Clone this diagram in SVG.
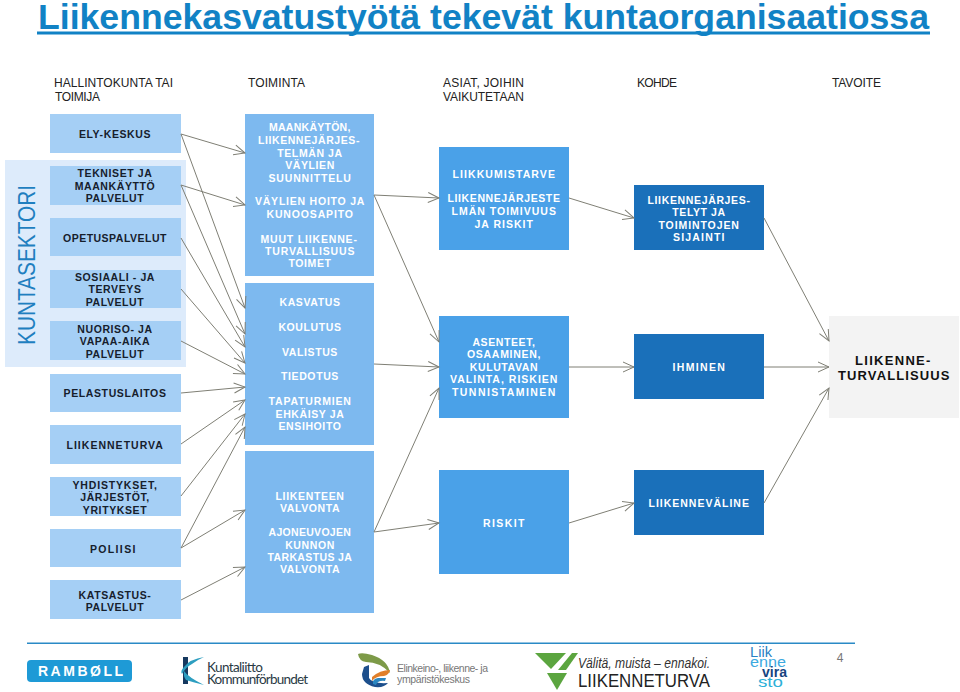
<svg xmlns="http://www.w3.org/2000/svg" width="960" height="692" viewBox="0 0 960 692">
<style>
text{font-family:"Liberation Sans",Arial,sans-serif}
.n text{font-weight:700;font-size:10.5px;letter-spacing:.6px;text-anchor:middle}
.a rect{fill:#a5cff5}.a text{fill:#16202c}
.b rect{fill:#7db9ef}.b text{fill:#fff}
.c rect{fill:#4aa1e8}.c text{fill:#fff}
.d rect{fill:#1a70ba}.d text{fill:#fff}
.h{font-size:12px;fill:#222}
.l{font-family:Lato,"Liberation Sans",sans-serif;font-size:13.5px;fill:#2a3a44}
#connectors line{stroke:#7f7f75;stroke-width:1;marker-end:url(#ar)}
</style>
<defs><marker id="ar" markerUnits="userSpaceOnUse" markerWidth="14" markerHeight="14" refX="12" refY="6" orient="auto" viewBox="0 0 14 12"><path d="M1 1L12 6L1 11" fill="none" stroke="#7f7f75" stroke-width="1"/></marker></defs>
<rect width="960" height="692" fill="#fff"/>
<g id="title"><text x="38" y="28.5" font-size="35" font-weight="700" fill="#1182c5" textLength="891" lengthAdjust="spacingAndGlyphs">Liikennekasvatustyötä tekevät kuntaorganisaatiossa</text><rect x="37" y="31.5" width="893" height="3" fill="#1182c5"/></g>
<g id="headers">
<text class="h" x="54" y="87" textLength="119">HALLINTOKUNTA  TAI</text><text class="h" x="55" y="101" textLength="45">TOIMIJA</text>
<text class="h" x="248" y="87" textLength="57">TOIMINTA</text>
<text class="h" x="443" y="87" textLength="81">ASIAT, JOIHIN</text><text class="h" x="443" y="101" textLength="81">VAIKUTETAAN</text>
<text class="h" x="637" y="87" textLength="40">KOHDE</text>
<text class="h" x="832" y="87" textLength="49">TAVOITE</text>
</g>
<g id="kuntasektori"><rect x="5" y="160" width="181" height="207" fill="#ddebfb"/><text transform="translate(35 345) rotate(-90)" font-size="23.5" fill="#1f7fc0" textLength="160" lengthAdjust="spacingAndGlyphs">KUNTASEKTORI</text></g>
<g id="n-ely" class="n a"><rect x="50" y="114" width="131" height="39"/><text x="115" y="138">ELY-KESKUS</text></g>
<g id="n-tekniset" class="n a"><rect x="50" y="166" width="131" height="39"/><text x="115" y="177">TEKNISET JA</text><text x="115" y="190">MAANKÄYTTÖ</text><text x="115" y="202">PALVELUT</text></g>
<g id="n-opetus" class="n a"><rect x="50" y="218" width="131" height="38"/><text x="115" y="242" textLength="104">OPETUSPALVELUT</text></g>
<g id="n-sosiaali" class="n a"><rect x="50" y="270" width="131" height="38"/><text x="115" y="281" textLength="80">SOSIAALI - JA</text><text x="115" y="293">TERVEYS</text><text x="115" y="306">PALVELUT</text></g>
<g id="n-nuoriso" class="n a"><rect x="50" y="321" width="131" height="39"/><text x="115" y="333">NUORISO- JA</text><text x="115" y="345">VAPAA-AIKA</text><text x="115" y="358">PALVELUT</text></g>
<g id="n-pelastus" class="n a"><rect x="50" y="374" width="131" height="38"/><text x="115" y="397" textLength="103">PELASTUSLAITOS</text></g>
<g id="n-liikenneturva" class="n a"><rect x="50" y="425" width="131" height="39"/><text x="115" y="449" textLength="97">LIIKENNETURVA</text></g>
<g id="n-yhdistykset" class="n a"><rect x="50" y="477" width="131" height="39"/><text x="115" y="489" textLength="85">YHDISTYKSET,</text><text x="115" y="501">JÄRJESTÖT,</text><text x="115" y="514">YRITYKSET</text></g>
<g id="n-poliisi" class="n a"><rect x="50" y="529" width="131" height="38"/><text x="113" y="553" textLength="46">POLIISI</text></g>
<g id="n-katsastus" class="n a"><rect x="50" y="580" width="131" height="39"/><text x="115" y="599">KATSASTUS-</text><text x="115" y="611">PALVELUT</text></g>
<g id="n-maankaytto" class="n b"><rect x="245" y="114" width="129" height="162"/><text x="310" y="131" textLength="82">MAANKÄYTÖN,</text><text x="309" y="144" textLength="102">LIIKENNEJÄRJES-</text><text x="310" y="157">TELMÄN JA</text><text x="310" y="169">VÄYLIEN</text><text x="310" y="182" textLength="83">SUUNNITTELU</text><text x="310" y="205" textLength="110">VÄYLIEN HOITO JA</text><text x="310" y="218" textLength="87">KUNOOSAPITO</text><text x="309" y="243" textLength="97">MUUT LIIKENNE-</text><text x="310" y="255" textLength="90">TURVALLISUUS</text><text x="310" y="267">TOIMET</text></g>
<g id="n-kasvatus" class="n b"><rect x="245" y="283" width="129" height="162"/><text x="310" y="306">KASVATUS</text><text x="310" y="331">KOULUTUS</text><text x="310" y="356">VALISTUS</text><text x="310" y="380">TIEDOTUS</text><text x="310" y="405" textLength="83">TAPATURMIEN</text><text x="310" y="418">EHKÄISY JA</text><text x="310" y="430">ENSIHOITO</text></g>
<g id="n-valvonta" class="n b"><rect x="245" y="451" width="129" height="162"/><text x="310" y="500" textLength="69">LIIKENTEEN</text><text x="310" y="512">VALVONTA</text><text x="310" y="536" textLength="83">AJONEUVOJEN</text><text x="310" y="549">KUNNON</text><text x="310" y="561" textLength="85">TARKASTUS JA</text><text x="310" y="573">VALVONTA</text></g>
<g id="n-liikkumistarve" class="n c"><rect x="439" y="147" width="130" height="103"/><text x="504" y="178" textLength="103">LIIKKUMISTARVE</text><text x="504" y="202" textLength="113">LIIKENNEJÄRJESTE</text><text x="504" y="215" textLength="105">LMÄN TOIMIVUUS</text><text x="504" y="228" textLength="59">JA RISKIT</text></g>
<g id="n-asenteet" class="n c"><rect x="439" y="316" width="130" height="102"/><text x="504" y="346">ASENTEET,</text><text x="504" y="358" textLength="74">OSAAMINEN,</text><text x="504" y="371">KULUTAVAN</text><text x="504" y="383" textLength="108">VALINTA, RISKIEN</text><text x="504" y="396" textLength="104">TUNNISTAMINEN</text></g>
<g id="n-riskit" class="n c"><rect x="439" y="470" width="130" height="104"/><text x="504" y="527" textLength="42">RISKIT</text></g>
<g id="n-jarjestelyt" class="n d"><rect x="634" y="185" width="130" height="65"/><text x="699" y="204" textLength="103">LIIKENNEJÄRJES-</text><text x="699" y="216">TELYT JA</text><text x="699" y="229" textLength="81">TOIMINTOJEN</text><text x="699" y="241" textLength="52">SIJAINTI</text></g>
<g id="n-ihminen" class="n d"><rect x="634" y="334" width="130" height="65"/><text x="699" y="371" textLength="53">IHMINEN</text></g>
<g id="n-liikennevaline" class="n d"><rect x="634" y="470" width="130" height="65"/><text x="699" y="507" textLength="101">LIIKENNEVÄLINE</text></g>
<g id="n-turvallisuus" class="n"><rect x="829" y="316" width="130" height="102" fill="#f3f3f3"/><text x="893" y="365" style="font-size:13px" fill="#111" textLength="76">LIIKENNE-</text><text x="894" y="380" style="font-size:13px" fill="#111" textLength="112">TURVALLISUUS</text></g>
<g id="connectors">
<line x1="181" y1="134" x2="245" y2="153"/><line x1="181" y1="134" x2="245" y2="308"/>
<line x1="181" y1="185" x2="245" y2="205"/><line x1="181" y1="185" x2="245" y2="334"/>
<line x1="181" y1="238" x2="245" y2="347"/><line x1="181" y1="289" x2="245" y2="363"/>
<line x1="181" y1="341" x2="245" y2="374"/><line x1="181" y1="393" x2="245" y2="387"/>
<line x1="181" y1="444" x2="245" y2="400"/><line x1="181" y1="496" x2="245" y2="414"/>
<line x1="181" y1="548" x2="245" y2="427"/><line x1="181" y1="548" x2="245" y2="510"/>
<line x1="181" y1="600" x2="245" y2="567"/>
<line x1="374" y1="195" x2="439" y2="198"/><line x1="374" y1="195" x2="439" y2="342"/>
<line x1="374" y1="364" x2="439" y2="367"/>
<line x1="374" y1="532" x2="439" y2="388"/><line x1="374" y1="532" x2="439" y2="523"/>
<line x1="569" y1="198" x2="634" y2="218"/><line x1="569" y1="367" x2="634" y2="367"/><line x1="569" y1="523" x2="634" y2="503"/>
<line x1="764" y1="218" x2="829" y2="341"/><line x1="764" y1="367" x2="829" y2="367"/><line x1="764" y1="503" x2="829" y2="388"/>
</g>
<g id="footer">
<rect x="27" y="642.5" width="828" height="1.5" fill="#2a8ac6"/>
<rect x="27" y="660" width="105" height="22" rx="4" fill="#1e9ad6"/><text x="38" y="676" font-size="14" font-weight="700" fill="#fff" textLength="85">RAMBØLL</text>
<path d="M183 657h5v27h-5z" fill="#16395f"/><path d="M204 657Q190 659 184 667Q180 671 182 674Q186 667 192 664Q197 660 204 657ZM184 671Q188 677 204 685Q192 682 186 680Q183 676 184 671Z" fill="#2d9ec0"/>
<text class="l" x="207" y="672" textLength="56">Kuntaliitto</text><text class="l" x="207" y="684" textLength="101">Kommunförbundet</text>
<path d="M358 654Q362 652 372 655Q388 660 390 673Q380 662 366 662Q359 661 358 654Z" fill="#7d9a48"/><path d="M372 677Q380 670 390 670Q389 675 384 676Q376 676 372 681Z" fill="#e07f2a"/><path d="M364 667L369 665V678Q372 684 388 683Q384 688 375 687Q362 684 362 674Z" fill="#1d4f8c"/><path d="M373 684Q372 679 378 678H386L385 681Q378 680 376 685Z" fill="#2a86c0"/>
<text x="397" y="672" font-size="10.5" fill="#777" textLength="91">Elinkeino-, liikenne- ja</text><text x="397" y="683" font-size="10.5" fill="#777" textLength="73">ympäristökeskus</text>
<path d="M535 653H566L551 669Z" fill="#5ba53f"/><path d="M558 670L572 653H578L566 670Z" fill="#5ba53f"/><path d="M547 673H567L557 690Z" fill="#5ba53f"/>
<text x="578" y="668" font-size="14" fill="#333" font-style="italic" textLength="132" lengthAdjust="spacingAndGlyphs">Välitä, muista – ennakoi.</text><text x="578" y="687" font-size="18" fill="#222" textLength="132" lengthAdjust="spacingAndGlyphs">LIIKENNETURVA</text>
<g font-size="14"><text x="750" y="657" fill="#2a82c4" textLength="22" lengthAdjust="spacingAndGlyphs">Liik</text><text x="750" y="667" fill="#3ca9df" textLength="36" lengthAdjust="spacingAndGlyphs">enne</text><text x="762" y="677" fill="#17447f" font-weight="700" textLength="25" lengthAdjust="spacingAndGlyphs">vira</text><text x="758" y="687" fill="#2db0d8" textLength="25" lengthAdjust="spacingAndGlyphs">sto</text></g>
<text x="840" y="662" font-size="12" fill="#777" text-anchor="middle">4</text>
</g>
</svg>
